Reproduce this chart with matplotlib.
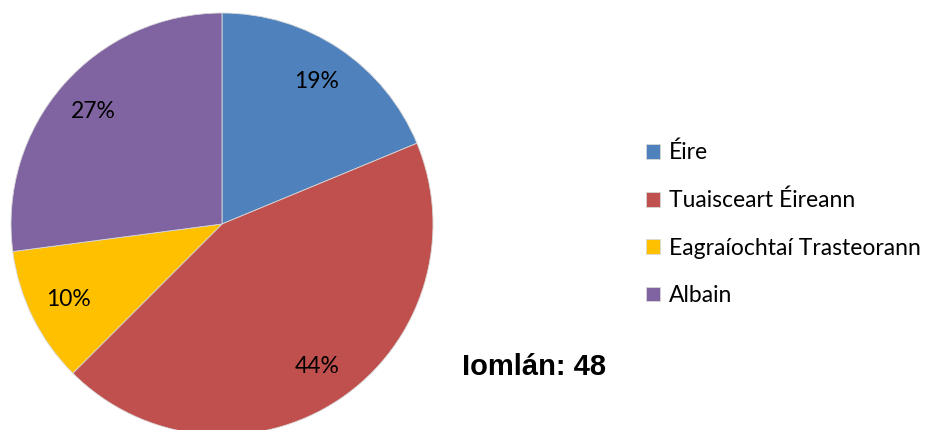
import matplotlib
matplotlib.use("Agg")
import matplotlib.pyplot as plt

# counts per group (total 48)
labels = ["Éire", "Tuaisceart Éireann", "Eagraíochtaí Trasteorann", "Albain"]
counts = [9, 21, 5, 13]
colors = ["#4F81BD", "#C0504D", "#FFC000", "#8064A2"]
total_label = "Iomlán: 48"

plt.rcParams['font.family'] = ['Lato', 'DejaVu Sans']

fig = plt.figure(figsize=(9.39, 4.30), dpi=100)
ax = fig.add_axes([11 / 939, -5 / 430, 422 / 939, 422 / 430])

wedges, texts, autotexts = ax.pie(
    counts, colors=colors, startangle=90, counterclock=False,
    autopct=lambda p: f"{p:.0f}%", pctdistance=0.81, radius=1,
    wedgeprops=dict(linewidth=0.6, edgecolor="#d8d8d8"),
    textprops=dict(fontsize=16.5, color="black"))
ax.set_xlim(-1, 1)
ax.set_ylim(-1, 1)
ax.set_aspect("equal")
ax.axis("off")

fig.legend(wedges, labels, loc="center left", bbox_to_anchor=(637 / 939, 0.479),
           frameon=False, fontsize=16.5, handlelength=0.6, handleheight=0.6,
           handletextpad=0.4, labelspacing=1.15, borderaxespad=0)

fig.text(462 / 939, 1 - 367 / 430, total_label, fontsize=21, fontweight="bold",
         family="Liberation Sans", va="center", ha="left")

fig.savefig("out.png", dpi=100)
